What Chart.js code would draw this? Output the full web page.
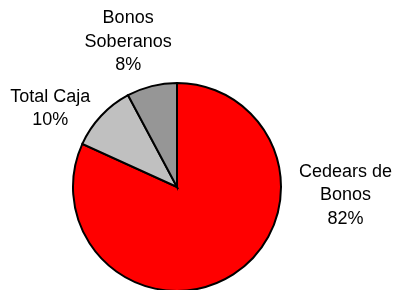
<!DOCTYPE html>
<html>
<head>
<meta charset="utf-8">
<script src="https://cdn.jsdelivr.net/npm/chart.js@4/dist/chart.umd.min.js"></script>
<style>
  html, body { margin: 0; padding: 0; background: #fff; overflow: hidden; }
  #wrap { width: 396px; height: 290px; overflow: hidden; }
</style>
</head>
<body>
<div id="wrap"><canvas id="pie" width="396" height="292"></canvas></div>
<script>
// Datos
const categorias = [['Cedears de', 'Bonos'], ['Total Caja'], ['Bonos', 'Soberanos']];
const valores = [81.8, 10.4, 7.8];
const colores = ['#FF0000', '#C0C0C0', '#969696'];

// Ubicación de etiquetas: ángulo (grados, horario desde arriba) y distancia en radios
const posEtiquetas = [
  { ang: 92.8, dist: 1.623 },
  { ang: 301.8, dist: 1.434 },
  { ang: 341.4, dist: 1.473 },
];

const total = valores.reduce((s, v) => s + v, 0);

// Plugin para dibujar las etiquetas fuera de la torta
const etiquetasPlugin = {
  id: 'etiquetas',
  afterDatasetsDraw(chart) {
    const ctx = chart.ctx;
    const meta = chart.getDatasetMeta(0);
    ctx.save();
    ctx.fillStyle = '#000';
    ctx.font = "18px 'Liberation Sans', Arial, sans-serif";
    ctx.textAlign = 'center';
    ctx.textBaseline = 'middle';
    const lh = 23.3;
    meta.data.forEach((arc, i) => {
      const p = posEtiquetas[i];
      const a = p.ang * Math.PI / 180;
      const r = arc.outerRadius * p.dist;
      const cx = arc.x + Math.sin(a) * r;
      const cy = arc.y - Math.cos(a) * r;
      const pct = Math.round(valores[i] / total * 100) + '%';
      const lineas = [...categorias[i], pct];
      const y0 = cy - (lineas.length - 1) * lh / 2;
      lineas.forEach((t, j) => ctx.fillText(t, cx, y0 + j * lh));
    });
    ctx.restore();
  },
};

new Chart(document.getElementById('pie'), {
  type: 'pie',
  data: {
    labels: categorias.map(c => c.join(' ')),
    datasets: [{
      data: valores,
      backgroundColor: colores,
      borderColor: '#000',
      borderWidth: 2,
      borderJoinStyle: 'miter',
    }],
  },
  options: {
    responsive: false,
    animation: false,
    layout: {
      padding: { top: 82, bottom: 0, left: 72, right: 114 },
    },
    plugins: {
      legend: { display: false },
      tooltip: { enabled: false },
    },
  },
  plugins: [etiquetasPlugin],
});
</script>
</body>
</html>
